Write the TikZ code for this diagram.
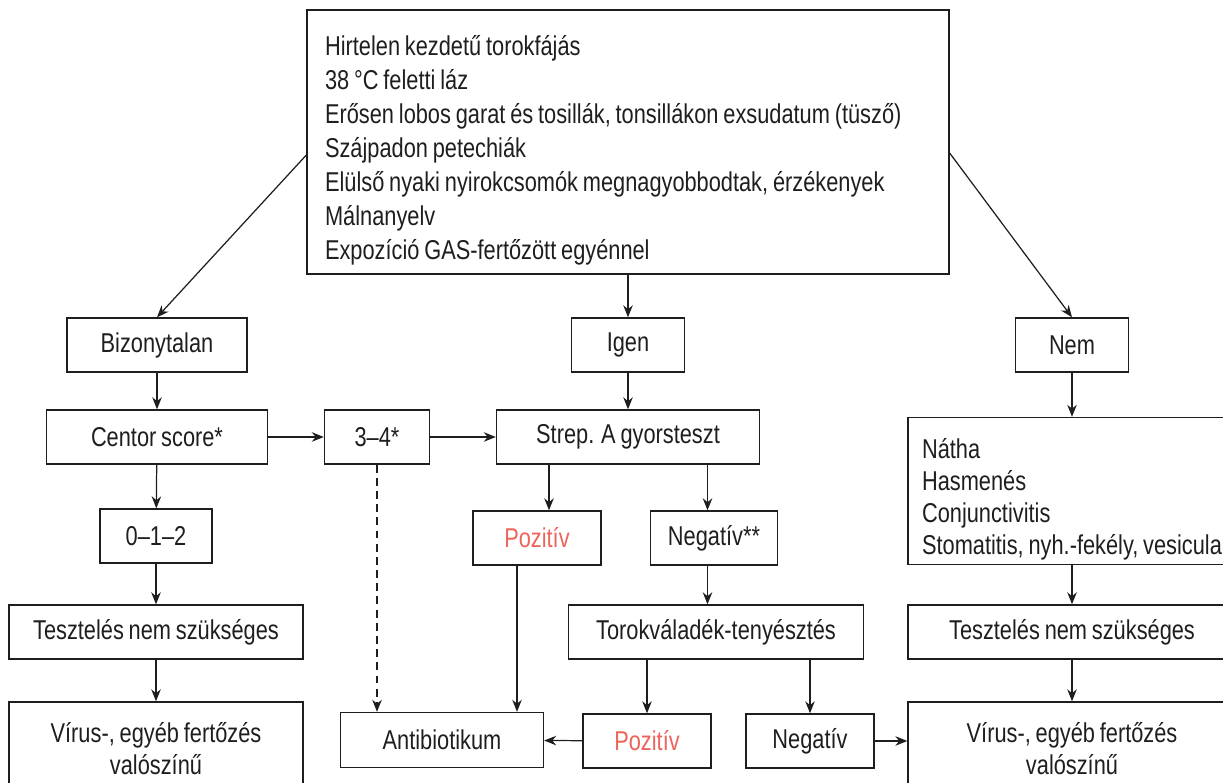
\documentclass[tikz,border=0pt]{standalone}
\usepackage{fontspec}
\setmainfont{Liberation Sans}[FakeStretch=0.8,WordSpace=0.8]
\usetikzlibrary{arrows.meta}
\definecolor{pozred}{RGB}{236,100,90}
\definecolor{ink}{RGB}{30,30,30}
\tikzset{
	box/.style={draw=ink, line width=.8pt, minimum height=1.08cm, inner sep=2pt, text=ink,
		font=\fontsize{15.5}{19}\selectfont},
	arr/.style={draw=ink, line width=.7pt, -{Stealth[length=.24cm,width=.19cm]}},
	redtext/.style={text=pozred}
}
\begin{document}
\begin{tikzpicture}[x=0.02cm,y=-0.02cm]
		\useasboundingbox (0,0) rectangle (1223,783);
		\clip (0,0) rectangle (1223,783);
		
		% top: symptoms
		\node[box, minimum width=12.84cm, minimum height=5.28cm, align=left,
			font=\fontsize{15.5}{19.3}\selectfont] (sym) at (628,142) {\rule{0pt}{.74cm}Hirtelen kezdetű torokfájás\\
			38 °C feletti láz\\
			\makebox[12.12cm][l]{Erősen lobos garat és tosillák, tonsillákon exsudatum (tüsző)}\\
			Szájpadon petechiák\\
			Elülső nyaki nyirokcsomók megnagyobbodtak, érzékenyek\\
			Málnanyelv\\
			Expozíció GAS-fertőzött egyénnel};
		
		\node[box, minimum width=3.6cm] (biz) at (157,345) {Bizonytalan};
		\node[box, minimum width=2.26cm] (igen) at (628,345) {Igen};
		\node[box, minimum width=2.26cm] (nem) at (1072,345) {Nem};
		
		\node[box, minimum width=4.42cm] (centor) at (157,437) {Centor score*};
		\node[box, minimum width=2.1cm] (cs34) at (377,437) {3--4*};
		\node[box, minimum width=5.26cm] (strep) at (628,437) {Strep. A gyorsteszt};
		\node[box, minimum width=6.56cm, minimum height=2.94cm, align=left,
			font=\fontsize{15.5}{18.3}\selectfont] (natha) at (1072,491) {\rule{0pt}{.74cm}Nátha\\
			Hasmenés\\
			Conjunctivitis\\
			Stomatitis, nyh.-fekély, vesicula};
		
		\node[box, minimum width=2.24cm] (nulla) at (156,536) {0--1--2};
		\node[box, redtext, minimum width=2.56cm] (pozA) at (537,538) {Pozitív};
		\node[box, minimum width=2.54cm] (negA) at (714,538) {Negatív**};
		
		\node[box, minimum width=5.88cm] (teszL) at (156,632) {Tesztelés nem szükséges};
		\node[box, minimum width=5.9cm] (torok) at (716,632) {Torokváladék-tenyésztés};
		\node[box, minimum width=6.56cm] (teszR) at (1072,632) {Tesztelés nem szükséges};
		
		\node[box, minimum width=5.88cm, minimum height=1.88cm, align=center,
			font=\fontsize{15.5}{18.3}\selectfont] (virL) at (156,749) {Vírus-, egyéb fertőzés\\valószínű};
		\node[box, minimum width=4.06cm, minimum height=1.1cm] (anti) at (442,740) {Antibiotikum};
		\node[box, redtext, minimum width=2.56cm] (pozB) at (647,741) {Pozitív};
		\node[box, minimum width=2.56cm] (negB) at (810,741) {Negatív};
		\node[box, minimum width=6.56cm, minimum height=1.88cm, align=center,
			font=\fontsize{15.5}{18.3}\selectfont] (virR) at (1072,749) {Vírus-, egyéb fertőzés\\valószínű};
		
		% connectors
		\draw[arr] ([yshift=-.26cm]sym.west) -- (biz.north);
		\draw[arr] (sym.south -| igen) -- (igen.north);
		\draw[arr] ([yshift=-.22cm]sym.east) -- (nem.north);
		
		\draw[arr] (biz) -- (centor);
		\draw[arr] (igen) -- (strep);
		\draw[arr] (nem) -- (natha);
		
		\draw[arr] (centor) -- (cs34);
		\draw[arr] (cs34) -- (strep);
		\draw[arr, dash pattern=on 4.5pt off 3pt] (cs34.south) -- (cs34.south |- anti.north);
		
		\draw[arr] (centor) -- (nulla);
		\draw[arr] (nulla) -- (teszL);
		\draw[arr] (teszL) -- (virL);
		
		\draw[arr] ([xshift=.24cm]strep.south -| pozA) -- ([xshift=.24cm]pozA.north);
		\draw[arr] ([xshift=-.13cm]strep.south -| negA) -- ([xshift=-.13cm]negA.north);
		\draw[arr] ([xshift=-.4cm]pozA.south) -- ([xshift=-.4cm]pozA.south |- anti.north);
		\draw[arr] ([xshift=-.13cm]negA.south) -- ([xshift=-.13cm]negA.south |- torok.north);
		
		\draw[arr] (torok.south -| pozB) -- (pozB.north);
		\draw[arr] (torok.south -| negB) -- (negB.north);
		\draw[arr] (pozB) -- (anti);
		\draw[arr] (negB.east) -- (negB.east -| virR.west);
		
		\draw[arr] (natha) -- (teszR);
		\draw[arr] (teszR) -- (virR);
\end{tikzpicture}
\end{document}
